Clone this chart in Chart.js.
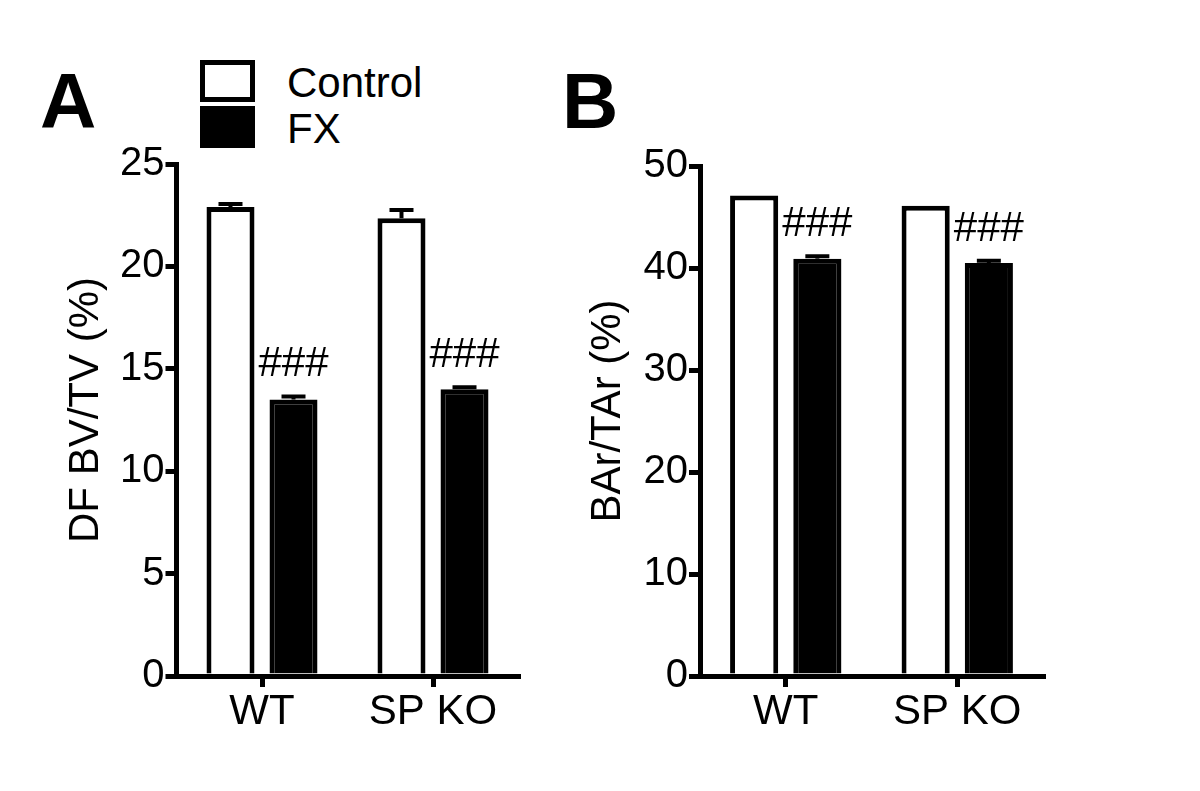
<!DOCTYPE html>
<html>
<head>
<meta charset="utf-8">
<script src="https://cdn.jsdelivr.net/npm/chart.js@4.4.0/dist/chart.umd.min.js"></script>
<style>
  body { margin: 0; background: #fff; }
  #page { position: relative; width: 1200px; height: 791px; overflow: hidden; font-family: "Liberation Sans", Arial, sans-serif; }
  canvas { position: absolute; top: 0; }
  .panel { position: absolute; font-weight: bold; font-size: 78px; line-height: 1; }
  .legend-item { position: absolute; left: 200px; font-size: 42px; line-height: 1; }
  .legend-box { position: absolute; left: 0; width: 45px; height: 32px; border: 5px solid #000; }
  .legend-label { position: absolute; left: 87px; top: 2px; white-space: nowrap; }
</style>
</head>
<body>
<div id="page">
  <div class="panel" style="left:40px; top:62px;">A</div>
  <div class="panel" style="left:562px; top:62px;">B</div>
  <div id="legend"></div>
  <canvas id="chartA" width="600" height="791" style="left:0;"></canvas>
  <canvas id="chartB" width="660" height="791" style="left:540px;"></canvas>
</div>
<script>
// data
var categories = ['WT', 'SP KO'];
var seriesNames = ['Control', 'FX'];
var seriesFill = ['#ffffff', '#000000'];

var bvtvControl = [22.9, 22.35];
var bvtvControlErr = [0.15, 0.4];
var bvtvFx = [13.5, 14.0];
var bvtvFxErr = [0.15, 0.1];

var barControl = [47.1, 46.1];
var barControlErr = [0, 0];
var barFx = [40.9, 40.5];
var barFxErr = [0.25, 0.2];

var fxMarks = ['###', '###'];

var FONT = '"Liberation Sans", Arial, sans-serif';

// error bars drawn upward from the top of each bar
var errorBarPlugin = {
	id: 'errorBars',
	afterDatasetsDraw: function(chart) {
		var ctx = chart.ctx;
		var yScale = chart.scales.y;
		ctx.save();
		ctx.strokeStyle = '#000';
		ctx.lineWidth = 4;
		chart.data.datasets.forEach(function(ds, i) {
			var meta = chart.getDatasetMeta(i);
			meta.data.forEach(function(bar, j) {
				var err = ds.errors[j];
				if (!err) return;
				var yTop = yScale.getPixelForValue(ds.data[j] + err);
				ctx.beginPath();
				ctx.moveTo(bar.x, bar.y);
				ctx.lineTo(bar.x, yTop);
				ctx.moveTo(bar.x - 12, yTop);
				ctx.lineTo(bar.x + 12, yTop);
				ctx.stroke();
			});
		});
		ctx.restore();
	}
};

// ### marks above the FX bars
var marksPlugin = {
	id: 'marks',
	afterDatasetsDraw: function(chart) {
		var ctx = chart.ctx;
		var yScale = chart.scales.y;
		ctx.save();
		ctx.fillStyle = '#000';
		ctx.font = '42px ' + FONT;
		ctx.textAlign = 'center';
		ctx.textBaseline = 'alphabetic';
		chart.data.datasets.forEach(function(ds, i) {
			if (!ds.marks) return;
			var meta = chart.getDatasetMeta(i);
			meta.data.forEach(function(bar, j) {
				var yTop = yScale.getPixelForValue(ds.data[j] + (ds.errors[j] || 0));
				ctx.fillText(ds.marks[j], bar.x, yTop - 20);
			});
		});
		ctx.restore();
	}
};

// rotated y axis title, a little above the axis middle like the original
var axisTitlePlugin = {
	id: 'axisTitle',
	afterDraw: function(chart, args, opts) {
		var ctx = chart.ctx;
		var yScale = chart.scales.y;
		ctx.save();
		ctx.fillStyle = '#000';
		ctx.font = '42px ' + FONT;
		ctx.textAlign = 'center';
		ctx.textBaseline = 'middle';
		ctx.translate(opts.x, (yScale.top + yScale.bottom) / 2 - 10);
		ctx.rotate(-Math.PI / 2);
		ctx.fillText(opts.text, 0, 0);
		ctx.restore();
	}
};

function createDataset(index, data, errors, marks) {
	return {
		label: seriesNames[index],
		data: data,
		errors: errors,
		marks: marks,
		backgroundColor: seriesFill[index],
		borderColor: '#000',
		borderWidth: 5,
		borderSkipped: 'bottom',
		categoryPercentage: 0.737,
		barPercentage: 0.762
	};
}

function buildChart(id, datasets, yTitle, yMax, yStep, yWidth, padRight, padTop, titleX) {
	var canvas = document.getElementById(id).getContext('2d');
	return new Chart(canvas, {
		type: 'bar',
		data: {
			labels: categories,
			datasets: datasets
		},
		options: {
			responsive: false,
			animation: false,
			layout: {
				padding: { left: 0, right: padRight, top: padTop, bottom: 0 }
			},
			plugins: {
				legend: { display: false },
				tooltip: { enabled: false },
				axisTitle: { text: yTitle, x: titleX }
			},
			scales: {
				x: {
					offset: true,
					afterFit: function(scale) { scale.height = 791 - 676; },
					grid: { offset: false, drawOnChartArea: false, tickLength: 11, lineWidth: 5, color: '#000' },
					border: { display: true, width: 5, color: '#000' },
					ticks: { color: '#000', padding: 0, font: { family: FONT, size: 42 } }
				},
				y: {
					min: 0,
					max: yMax,
					afterFit: function(scale) { scale.width = yWidth; },
					grid: { drawOnChartArea: false, tickLength: 11, lineWidth: 5, color: '#000' },
					border: { display: true, width: 5, color: '#000' },
					ticks: { stepSize: yStep, color: '#000', padding: 1, font: { family: FONT, size: 40 } }
				}
			}
		},
		plugins: [errorBarPlugin, marksPlugin, axisTitlePlugin]
	});
}

function buildLegend() {
	var html = '';
	seriesNames.forEach(function(name, i) {
		html += '<div class="legend-item" style="top:' + (60 + i * 46) + 'px;">' +
			'<div class="legend-box" style="background:' + seriesFill[i] + ';"></div>' +
			'<div class="legend-label">' + name + '</div></div>';
	});
	document.getElementById('legend').innerHTML = html;
}

buildLegend();

buildChart('chartA', [
	createDataset(0, bvtvControl, bvtvControlErr),
	createDataset(1, bvtvFx, bvtvFxErr, fxMarks)
], 'DF BV/TV (%)', 25, 5, 176.5, 81.5, 164, 86);

buildChart('chartB', [
	createDataset(0, barControl, barControlErr),
	createDataset(1, barFx, barFxErr, fxMarks)
], 'BAr/TAr (%)', 50, 10, 160, 157, 166, 68);
</script>
</body>
</html>
